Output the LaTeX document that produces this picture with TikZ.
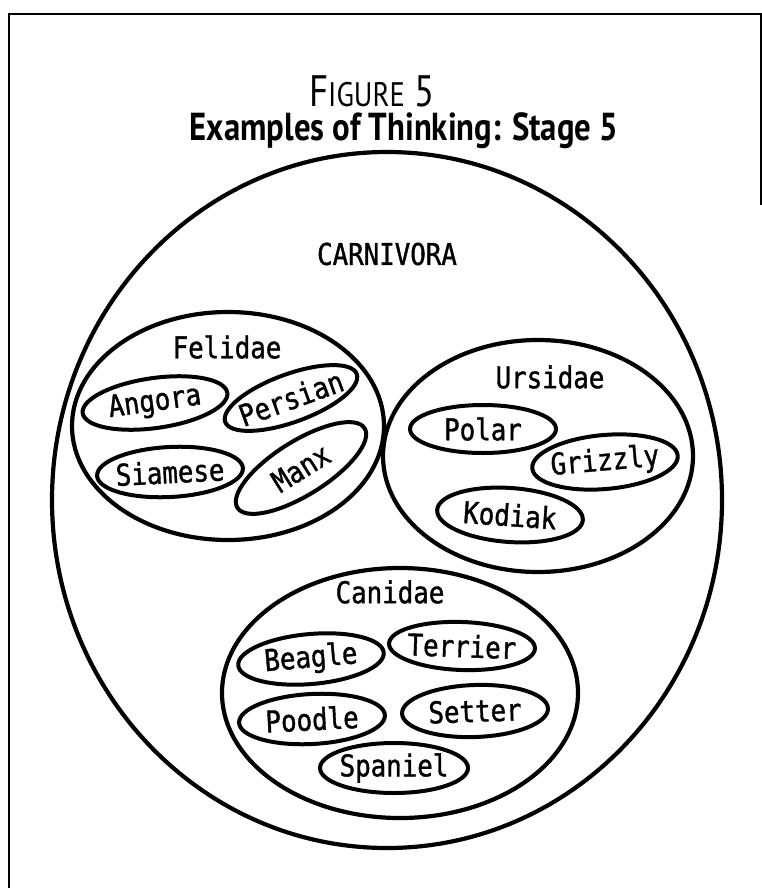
\documentclass[tikz,border=0pt]{standalone}
\usepackage{fontspec}
\usetikzlibrary{shapes.geometric}
\newfontfamily\labfont[FakeStretch=0.86,FakeBold=1.2]{DejaVu Sans Mono}
\newfontfamily\headfont[FakeStretch=0.84]{PT Sans}
\begin{document}
\begin{tikzpicture}[x=1pt,y=-1pt,
  set/.style={draw, ellipse, line width=4.2pt, inner sep=0pt},
  outline/.style={line width=4pt},
  item/.style={inner sep=0pt, font=\labfont\fontsize{30}{30}\selectfont},
  setname/.style={font=\labfont\fontsize{30}{30}\selectfont, inner sep=0pt},
  frameline/.style={line width=2.5pt}]
\useasboundingbox (0,0) rectangle (762,888);

% open frame
\coordinate (fbl) at (9,888);
\coordinate (ftl) at (9,14);
\coordinate (ftr) at (761,14);
\coordinate (fr) at (761,205);
\draw[frameline] (fbl) -- (ftl) -- (ftr) -- (fr);

% heading
\node[inner sep=0pt, font=\headfont\fontsize{44}{44}\selectfont] (fig) at (372,91)
  {F{\fontsize{34}{34}\selectfont IGURE} 5};
\node[inner sep=0pt, font=\headfont\bfseries\fontsize{39}{39}\selectfont] (head) at (404,131)
  {Examples of Thinking: Stage 5};

% order
\node[set, minimum width=670pt, minimum height=696pt] (carn) at (387,500) {};
\node[setname] (carnl) at (387,254) {CARNIVORA};

% families
\node[set, minimum width=312pt, minimum height=228pt] (fel) at (228,426) {};
\node[setname] (fell) at (227,347) {Felidae};
\node[set, minimum width=310pt, minimum height=232pt] (urs) at (538,456) {};
\node[setname] (ursl) at (550,377) {Ursidae};
\node[set, minimum width=356pt, minimum height=250pt] (can) at (400,693) {};
\node[setname] (canl) at (390,592) {Canidae};

% species: a label, then its ring turned by the same angle
\def\ring#1#2#3#4{\draw[outline, rotate around={#2:(#1)}] (#1) ellipse [x radius=#3, y radius=#4];}

% cats
\node[item, rotate=8] (angora) at (155,403) {Angora};
\ring{angora}{8}{73}{25}
\node[item, rotate=20] (persian) at (291,398) {Persian};
\ring{persian}{20}{70}{24}
\node[item, rotate=3] (siamese) at (170,472) {Siamese};
\ring{siamese}{3}{73}{25}
\node[item, rotate=32] (manx) at (301,468) {Manx};
\ring{manx}{32}{75}{27}

% bears
\node[item] (polar) at (483,429) {Polar};
\ring{polar}{0}{73}{24}
\node[item, rotate=5] (grizzly) at (605,462) {Grizzly};
\ring{grizzly}{5}{73}{27}
\node[item, rotate=-4] (kodiak) at (510,515) {Kodiak};
\ring{kodiak}{-4}{73}{27}

% dogs
\node[item, rotate=5] (beagle) at (311,659) {Beagle};
\ring{beagle}{5}{73}{25}
\node[item, rotate=-2] (terrier) at (462,646) {Terrier};
\ring{terrier}{-2}{73}{24}
\node[item, rotate=3] (poodle) at (312,719) {Poodle};
\ring{poodle}{3}{73}{25}
\node[item, rotate=2] (setter) at (475,711) {Setter};
\ring{setter}{2}{73}{26}
\node[item] (spaniel) at (394,768) {Spaniel};
\ring{spaniel}{0}{74}{25}
\end{tikzpicture}
\end{document}
